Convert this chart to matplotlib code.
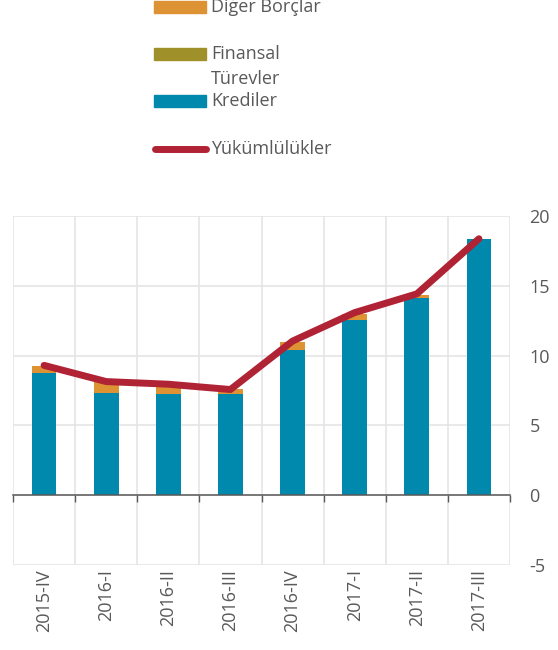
import numpy as np
import matplotlib.pyplot as plt
from matplotlib.patches import Rectangle
from matplotlib.lines import Line2D

plt.rcParams['font.family'] = ['Open Sans', 'DejaVu Sans']
plt.rcParams['axes.unicode_minus'] = False

# data
quarters = ['2015-IV', '2016-I', '2016-II', '2016-III', '2016-IV', '2017-I', '2017-II', '2017-III']
krediler = [8.74, 7.31, 7.23, 7.23, 10.42, 12.57, 14.16, 18.32]
finansal = [0.0, 0.0, 0.0, 0.02, 0.0, 0.0, 0.0, 0.0]
diger = [0.51, 0.79, 0.51, 0.37, 0.53, 0.43, 0.21, 0.05]
yukumluluk = [9.30, 8.14, 7.95, 7.57, 11.04, 13.08, 14.42, 18.37]

c_kred = '#0089ac'
c_fin = '#a0902a'
c_dig = '#dd9233'
c_line = '#b02334'
c_text = '#595959'
c_grid = '#e3e3e3'

fig = plt.figure(figsize=(5.58, 6.5), dpi=100)
ax = fig.add_axes([13 / 558, 1 - 565 / 650, (510 - 13) / 558, (565 - 216) / 650])

x = np.arange(len(quarters))
w = 0.4
ax.bar(x, krediler, w, color=c_kred, zorder=2)
ax.bar(x, finansal, w, bottom=krediler, color=c_fin, zorder=2)
ax.bar(x, diger, w, bottom=np.array(krediler) + np.array(finansal), color=c_dig, zorder=2)
ax.plot(x, yukumluluk, color=c_line, lw=5, solid_capstyle='round', solid_joinstyle='round', zorder=3)

ax.set_xlim(-0.5, len(quarters) - 0.5)
ax.set_ylim(-5, 20)

# grid: vertical lines at category boundaries
bounds = np.arange(len(quarters) + 1) - 0.5
ax.set_xticks(bounds, minor=True)
ax.set_xticks(x)
ax.set_xticklabels(quarters, rotation=90, fontsize=13, color=c_text)
ax.tick_params(axis='x', which='both', length=0, pad=3)
ax.grid(True, which='minor', axis='x', color=c_grid, lw=1.1, zorder=0)
ax.set_yticks([-5, 0, 5, 10, 15, 20])
ax.grid(True, which='major', axis='y', color=c_grid, lw=1.1, zorder=0)
ax.yaxis.tick_right()
ax.tick_params(axis='y', length=0, pad=14, labelsize=13, labelcolor=c_text)
for lab in ax.get_yticklabels():
    lab.set_horizontalalignment('left')
for s in ax.spines.values():
    s.set_visible(False)

# zero axis with tick marks at the category boundaries
zero_ax = ax.secondary_xaxis(5 / 25)
zero_ax.set_zorder(5)
zero_ax.set_xticks(bounds)
zero_ax.set_xticklabels([])
zero_ax.tick_params(direction='out', length=5, color='#595959', width=1)
zero_ax.spines['bottom'].set_color('#595959')
zero_ax.spines['bottom'].set_linewidth(1.1)

# legend drawn at the top of the figure
leg_labels = ['Diğer Borçlar', 'Finansal\nTürevler', 'Krediler', 'Yükümlülükler']
leg_colors = [c_dig, c_fin, c_kred, c_line]
leg_y = [7, 54, 101, 149]
for lab, col, yy in zip(leg_labels, leg_colors, leg_y):
    fy = 1 - yy / 650
    if lab == 'Yükümlülükler':
        fig.add_artist(Line2D([155 / 558, 206 / 558], [fy, fy], color=col, lw=5,
                              solid_capstyle='round'))
    else:
        fig.add_artist(Rectangle((154 / 558, fy - 6 / 650), 52 / 558, 12 / 650,
                                 color=col, transform=fig.transFigure))
    fig.text(211 / 558, fy + 9 / 650, lab, ha='left', va='top', fontsize=13,
             color=c_text, linespacing=1.5)

fig.savefig('out.png', dpi=100)
